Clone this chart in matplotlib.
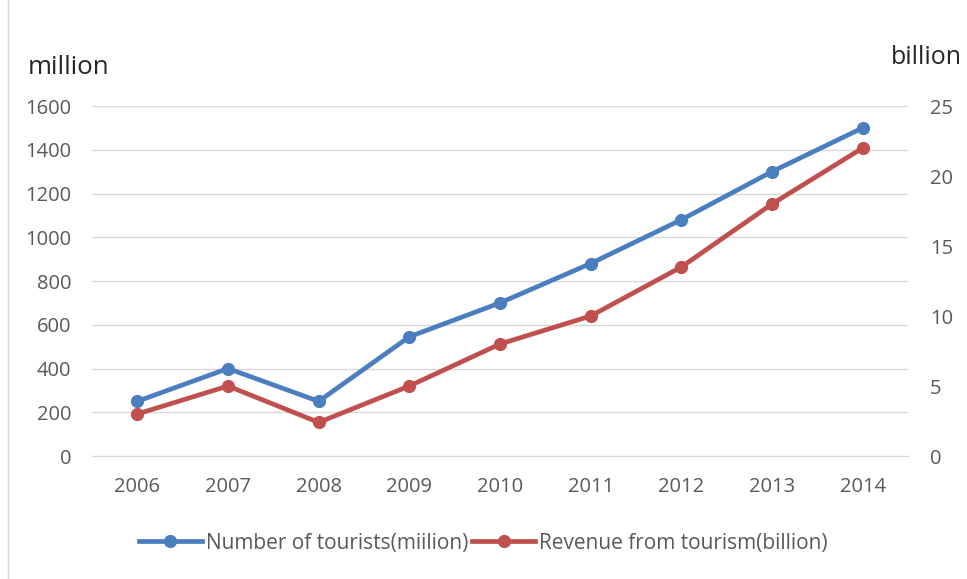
import matplotlib.pyplot as plt

years = ['2006', '2007', '2008', '2009', '2010', '2011', '2012', '2013', '2014']
tourists = [250, 400, 250, 545, 700, 880, 1080, 1300, 1500]   # million
revenue = [3, 5, 2.4, 5, 8, 10, 13.5, 18, 22]                  # billion

left_ticks = [0, 200, 400, 600, 800, 1000, 1200, 1400, 1600]
right_ticks = [0, 5, 10, 15, 20, 25]

blue = '#4a7ebf'
red = '#c0504d'
tick_color = '#595959'

plt.rcParams['font.family'] = ['Open Sans', 'DejaVu Sans']

fig = plt.figure(figsize=(9.67, 5.79), dpi=100)
ax = fig.add_axes([92 / 967, 1 - 456 / 579, (908 - 92) / 967, (456 - 106) / 579])
ax2 = ax.twinx()

x = list(range(len(years)))
l1, = ax.plot(x, tourists, color=blue, lw=3.4, marker='o', ms=8.5,
              label='Number of tourists(miilion)')
l2, = ax2.plot(x, revenue, color=red, lw=3.4, marker='o', ms=8.5,
               label='Revenue from tourism(billion)')

ax.set_xlim(-0.5, len(years) - 0.5)
ax.set_ylim(0, 1600)
ax2.set_ylim(0, 25)
ax.set_yticks(left_ticks)
ax2.set_yticks(right_ticks)
ax.set_xticks(x)
ax.set_xticklabels(years)

ax.grid(axis='y', color='#d9d9d9', lw=1)
ax.set_axisbelow(True)
for a in (ax, ax2):
    for s in a.spines.values():
        s.set_visible(False)
    a.tick_params(length=0, labelsize=14.5, labelcolor=tick_color)
ax.spines['bottom'].set_visible(True)
ax.spines['bottom'].set_color('#d9d9d9')
ax.tick_params(axis='y', pad=15)
ax.tick_params(axis='x', pad=15)
ax2.tick_params(axis='y', pad=16)

fig.text(28 / 967, 1 - 68 / 579, 'million', fontsize=18.5, color='#262626', va='center')
fig.text(891 / 967, 1 - 58 / 579, 'billion', fontsize=18, color='#262626', va='center')

fig.legend(handles=[l1, l2], loc='center', bbox_to_anchor=(0.5, 1 - 543 / 579),
           ncol=2, frameon=False, fontsize=15, handlelength=3.0,
           columnspacing=0.2, handletextpad=0.2, labelcolor=tick_color)

fig.add_artist(plt.Line2D([8 / 967, 8 / 967], [0, 1], color='#d9d9d9', lw=1))

fig.savefig('out.png', dpi=100)
